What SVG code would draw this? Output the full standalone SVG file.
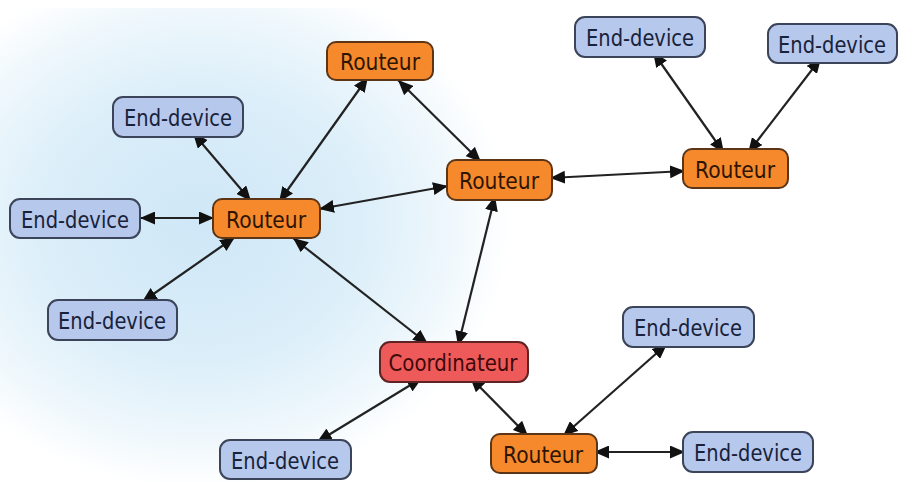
<svg xmlns="http://www.w3.org/2000/svg" width="917" height="482" viewBox="0 0 917 482">
<defs>
<radialGradient id="bg" cx="200" cy="225" r="310" gradientUnits="userSpaceOnUse" gradientTransform="translate(200 225) scale(1 0.85) translate(-200 -225)">
<stop offset="0" stop-color="#cfe7f7"/>
<stop offset="0.5" stop-color="#dbeef9"/>
<stop offset="0.8" stop-color="#eef7fc"/>
<stop offset="1" stop-color="#ffffff"/>
</radialGradient>
<marker id="ah" viewBox="0 0 15 13" refX="15" refY="6.5" markerWidth="15" markerHeight="13" markerUnits="userSpaceOnUse" orient="auto-start-reverse">
<path d="M0,0 L15,6.5 L0,13 z" fill="#111"/>
</marker>
<style>
.ed rect{fill:#b6c8ec;stroke:#3b4458;stroke-width:2}
.rt rect{fill:#f5892c;stroke:#5b3516;stroke-width:2}
.co rect{fill:#ee5a5a;stroke:#5e2323;stroke-width:2}
text{font-family:"DejaVu Sans","Liberation Sans",sans-serif;font-size:23.5px;text-anchor:middle}
.ed text{fill:#18223a}
.rt text{fill:#2e1503}
.co text{fill:#3e0a0a}
#edges line{stroke:#222;stroke-width:2.2;marker-start:url(#ah);marker-end:url(#ah)}
</style>
</defs>
<rect x="0" y="0" width="917" height="482" fill="#fff"/>
<rect x="0" y="8" width="917" height="474" fill="url(#bg)"/>
<g id="edges">
<line x1="193" y1="133" x2="251" y2="201"/>
<line x1="140" y1="218" x2="214" y2="218"/>
<line x1="279" y1="202" x2="368" y2="77"/>
<line x1="319" y1="209" x2="448" y2="186"/>
<line x1="398" y1="80" x2="481" y2="162"/>
<line x1="550" y1="178" x2="685" y2="171"/>
<line x1="653" y1="52" x2="724" y2="153"/>
<line x1="821" y1="58" x2="748" y2="153"/>
<line x1="495" y1="196" x2="458" y2="346"/>
<line x1="235" y1="237" x2="142" y2="302"/>
<line x1="293" y1="238" x2="428" y2="344"/>
<line x1="422" y1="378" x2="317" y2="442"/>
<line x1="470" y1="377" x2="528" y2="436"/>
<line x1="563" y1="436" x2="667" y2="344"/>
<line x1="594" y1="452" x2="685" y2="452"/>
</g>
<g id="routeur-top" class="rt"><rect x="327" y="42" width="106" height="38" rx="9"/><text x="380" y="69.5" textLength="80" lengthAdjust="spacingAndGlyphs">Routeur</text></g>
<g id="end-device-1" class="ed"><rect x="113" y="97" width="130" height="40" rx="10"/><text x="178" y="125.5" textLength="108" lengthAdjust="spacingAndGlyphs">End-device</text></g>
<g id="end-device-2" class="ed"><rect x="10" y="199" width="130" height="39" rx="10"/><text x="75" y="227.5" textLength="108" lengthAdjust="spacingAndGlyphs">End-device</text></g>
<g id="routeur-left" class="rt"><rect x="213" y="199" width="107" height="39" rx="9"/><text x="266" y="227.5" textLength="80" lengthAdjust="spacingAndGlyphs">Routeur</text></g>
<g id="routeur-mid" class="rt"><rect x="447" y="160" width="105" height="40" rx="9"/><text x="499" y="188.5" textLength="80" lengthAdjust="spacingAndGlyphs">Routeur</text></g>
<g id="end-device-3" class="ed"><rect x="575" y="17" width="130" height="40" rx="10"/><text x="640" y="45.5" textLength="108" lengthAdjust="spacingAndGlyphs">End-device</text></g>
<g id="end-device-4" class="ed"><rect x="768" y="24" width="129" height="39" rx="10"/><text x="832" y="52.5" textLength="108" lengthAdjust="spacingAndGlyphs">End-device</text></g>
<g id="routeur-right" class="rt"><rect x="683" y="149" width="105" height="39" rx="9"/><text x="735" y="177.5" textLength="80" lengthAdjust="spacingAndGlyphs">Routeur</text></g>
<g id="end-device-5" class="ed"><rect x="48" y="300" width="129" height="40" rx="10"/><text x="112" y="328.5" textLength="108" lengthAdjust="spacingAndGlyphs">End-device</text></g>
<g id="coordinateur" class="co"><rect x="380" y="342" width="148" height="40" rx="10"/><text x="453" y="370.5" textLength="129" lengthAdjust="spacingAndGlyphs">Coordinateur</text></g>
<g id="end-device-6" class="ed"><rect x="220" y="440" width="131" height="39" rx="10"/><text x="285" y="468.5" textLength="108" lengthAdjust="spacingAndGlyphs">End-device</text></g>
<g id="end-device-7" class="ed"><rect x="623" y="307" width="131" height="40" rx="10"/><text x="688" y="335.5" textLength="108" lengthAdjust="spacingAndGlyphs">End-device</text></g>
<g id="routeur-bottom" class="rt"><rect x="491" y="434" width="106" height="39" rx="9"/><text x="543" y="462.5" textLength="80" lengthAdjust="spacingAndGlyphs">Routeur</text></g>
<g id="end-device-8" class="ed"><rect x="683" y="432" width="130" height="40" rx="10"/><text x="748" y="460.5" textLength="108" lengthAdjust="spacingAndGlyphs">End-device</text></g>
</svg>
